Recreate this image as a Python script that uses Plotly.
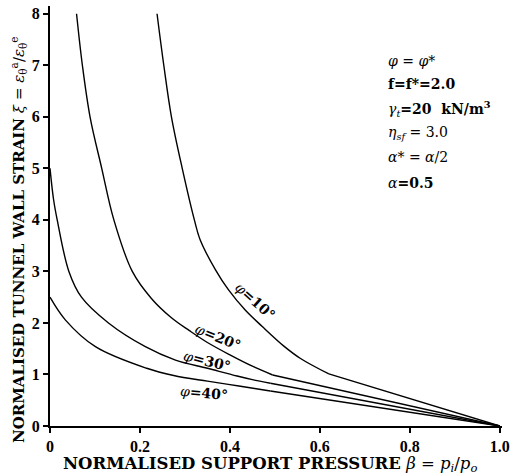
import plotly.graph_objects as go

# Normalised support pressure (beta) vs normalised tunnel wall strain (xi)
# Each curve: smooth part up to the break point, then a straight run to (1, 0).
phi10_x = [0.238, 0.253, 0.270, 0.294, 0.321, 0.334, 0.368, 0.397, 0.434, 0.472, 0.52, 0.557, 0.62, 1.0]
phi10_y = [8.0, 7.0, 6.0, 5.0, 4.0, 3.61, 3.03, 2.64, 2.25, 1.93, 1.55, 1.31, 1.01, 0.0]

phi20_x = [0.059, 0.072, 0.089, 0.115, 0.142, 0.183, 0.225, 0.27, 0.31, 0.35, 0.40, 0.45, 0.495, 1.0]
phi20_y = [8.0, 7.0, 6.0, 5.0, 4.0, 3.0, 2.48, 2.1, 1.85, 1.62, 1.38, 1.16, 0.99, 0.0]

phi30_x = [0.0, 0.008, 0.016, 0.042, 0.07, 0.13, 0.212, 0.279, 0.35, 0.416, 0.45, 0.49, 1.0]
phi30_y = [5.0, 4.39, 4.0, 3.0, 2.5, 2.0, 1.54, 1.28, 1.12, 0.97, 0.90, 0.83, 0.0]

phi40_x = [0.0, 0.034, 0.101, 0.215, 0.275, 0.35, 0.42, 0.49, 1.0]
phi40_y = [2.5, 2.06, 1.54, 1.12, 0.98, 0.87, 0.775, 0.68, 0.0]

curves = [
    ("φ=10°", phi10_x, phi10_y),
    ("φ=20°", phi20_x, phi20_y),
    ("φ=30°", phi30_x, phi30_y),
    ("φ=40°", phi40_x, phi40_y),
]

x_ticks = [0, 0.2, 0.4, 0.6, 0.8, 1.0]
x_tick_text = ["0", "0.2", "0.4", "0.6", "0.8", "1.0"]
y_ticks = [0, 1, 2, 3, 4, 5, 6, 7, 8]

SERIF = "DejaVu Serif"
TICK_SERIF = "Liberation Serif"
LINE = dict(color="black", width=1.4)

fig = go.Figure()
for name, xs, ys in curves:
    # curved branch
    fig.add_trace(go.Scatter(x=xs[:-1], y=ys[:-1], mode="lines",
                             line=dict(shape="spline", smoothing=1.0, **LINE),
                             showlegend=False, hoverinfo="skip"))
    # straight branch to the end point
    fig.add_trace(go.Scatter(x=xs[-2:], y=ys[-2:], mode="lines", line=LINE,
                             showlegend=False, hoverinfo="skip"))

# curve labels: text, position, angle
curve_labels = [
    ("<i>φ</i><b>=10°</b>", 0.456, 2.42, 42),
    ("<i>φ</i><b>=20°</b>", 0.374, 1.73, 22),
    ("<i>φ</i><b>=30°</b>", 0.350, 1.26, 14),
    ("<i>φ</i><b>=40°</b>", 0.343, 0.64, 5),
]
for txt, lx, ly, ang in curve_labels:
    fig.add_annotation(x=lx, y=ly, xref="x", yref="y", text=txt, showarrow=False,
                       textangle=ang, font=dict(family=SERIF, size=14, color="black"))

# parameter block
params = [
    "<i>φ</i> = <i>φ</i>*",
    "<b>f=f*=2.0</b>",
    "<i>γ<sub>t</sub></i><b>=20  kN/m<sup>3</sup></b>",
    "<i>η<sub>sf</sub></i> = 3.0",
    "<i>α</i>* = <i>α</i>/2",
    "<i>α</i><b>=0.5</b>",
]
param_y = [7.08, 6.64, 6.15, 5.69, 5.22, 4.72]
for txt, py in zip(params, param_y):
    fig.add_annotation(x=0.748, y=py, xref="x", yref="y", text=txt, showarrow=False,
                       xanchor="left", yanchor="middle",
                       font=dict(family=SERIF, size=14, color="black"))

# axis titles
fig.add_annotation(x=0.487, y=-0.092, xref="paper", yref="paper", showarrow=False,
                   xanchor="center", yanchor="middle",
                   text="<b>NORMALISED SUPPORT PRESSURE</b> <i>β</i> = <i>p<sub>i</sub></i>/<i>p<sub>o</sub></i>",
                   font=dict(family=SERIF, size=16.5, color="black"))
fig.add_annotation(x=-0.071, y=0.445, xref="paper", yref="paper", showarrow=False,
                   xanchor="center", yanchor="middle", textangle=-90,
                   text="<b>NORMALISED TUNNEL WALL STRAIN</b> <i>ξ</i> = <i>ε</i><sub>θ</sub><sup>a</sup>/<i>ε</i><sub>θ</sub><sup>e</sup>",
                   font=dict(family=SERIF, size=15, color="black"))

axis_common = dict(showgrid=False, zeroline=False, showline=True, linecolor="black",
                   linewidth=2, ticks="outside", ticklen=5, tickwidth=1.5,
                   tickcolor="black", mirror=False, ticklabeloverflow="allow",
                   tickfont=dict(family=TICK_SERIF, size=16, color="black", weight="bold"))

fig.update_xaxes(range=[0, 1.005], tickvals=x_ticks, ticktext=x_tick_text, **axis_common)
fig.update_yaxes(range=[0, 8.15], tickvals=y_ticks, **axis_common)

fig.update_layout(width=510, height=474,
                  margin=dict(l=50, r=8, t=6, b=48, autoexpand=False),
                  paper_bgcolor="white", plot_bgcolor="white", showlegend=False)

fig.write_html("out.html")
